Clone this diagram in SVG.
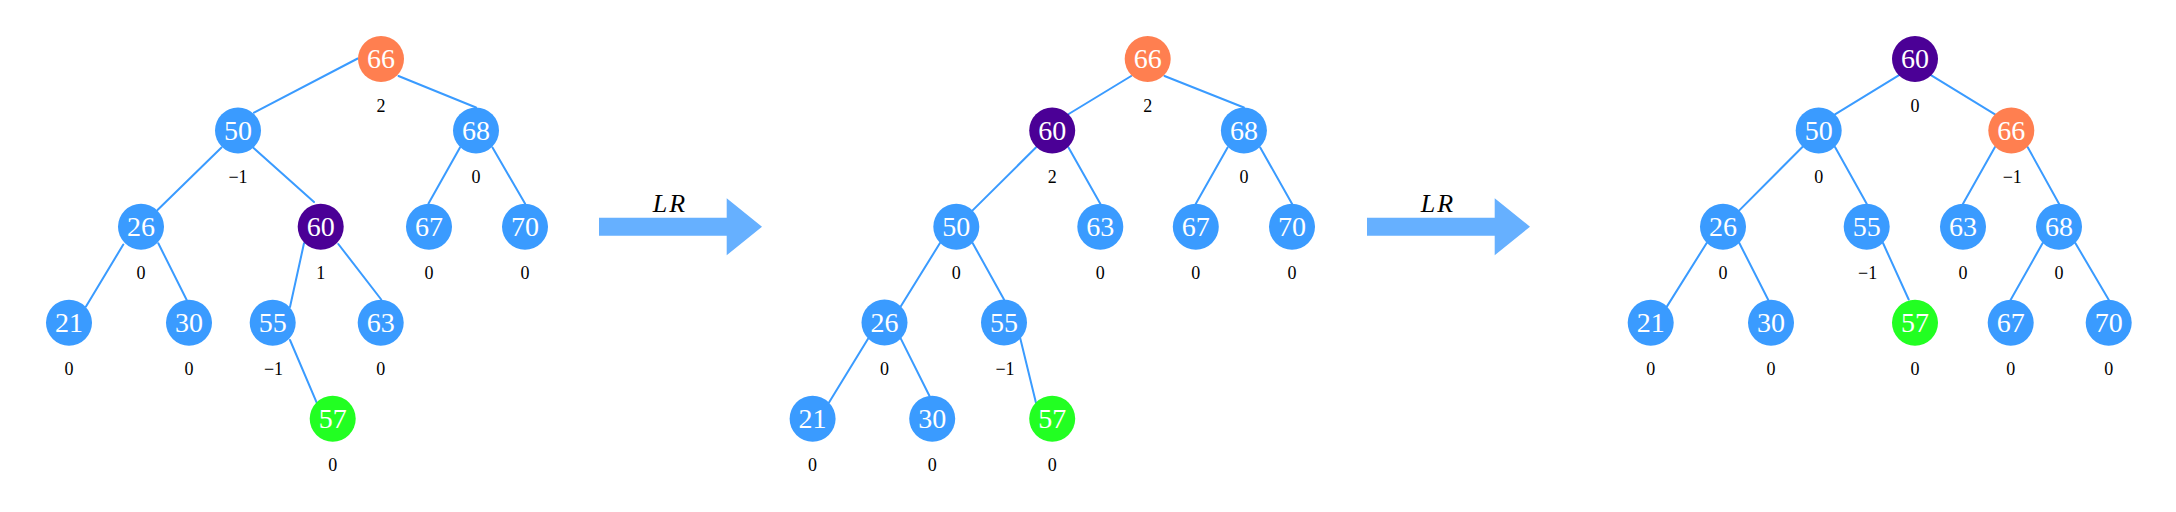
<svg xmlns="http://www.w3.org/2000/svg" width="2176" height="512" viewBox="0 0 2176 512">
<style>
.e{stroke:#3a9bff;stroke-width:2;fill:none;stroke-linecap:round}
.b{fill:#3a9bff}.o{fill:#ff7f50}.p{fill:#4b0096}.g{fill:#22ff22}
.v{font-family:"Liberation Serif","DejaVu Serif",serif;font-size:28px;fill:#fff;text-anchor:middle}
.f{font-family:"Liberation Serif","DejaVu Serif",serif;font-size:18px;fill:#000;text-anchor:middle}
.arr{fill:#66b0ff}
.lr{font-family:"Liberation Serif","DejaVu Serif",serif;font-style:italic;font-size:26px;fill:#000;text-anchor:middle;letter-spacing:2px}
</style>
<rect width="2176" height="512" fill="#fff"/>
<g id="connectors">
<!-- tree 1 -->
<line class="e" x1="357.7" y1="58.5" x2="254" y2="112.7"/>
<line class="e" x1="398.5" y1="76" x2="476" y2="107.5"/>
<line class="e" x1="221.5" y1="147.5" x2="157.5" y2="210"/>
<line class="e" x1="253.3" y1="147.7" x2="314" y2="202"/>
<line class="e" x1="460" y1="147.5" x2="428.5" y2="203.5"/>
<line class="e" x1="492.5" y1="147.5" x2="525" y2="203.5"/>
<line class="e" x1="123.3" y1="244.5" x2="86" y2="306.5"/>
<line class="e" x1="158.3" y1="243.3" x2="186.7" y2="300"/>
<line class="e" x1="304" y1="243.3" x2="290" y2="307"/>
<line class="e" x1="338.3" y1="244" x2="381.2" y2="299.5"/>
<line class="e" x1="290" y1="340" x2="316.7" y2="402.7"/>
<!-- tree 2 -->
<line class="e" x1="1131.2" y1="76" x2="1068.7" y2="114"/>
<line class="e" x1="1164.5" y1="76" x2="1243.9" y2="107.5"/>
<line class="e" x1="1035.9" y1="147.5" x2="972.6" y2="210.4"/>
<line class="e" x1="1068.5" y1="147.5" x2="1100.3" y2="203.7"/>
<line class="e" x1="1227.6" y1="147.5" x2="1195.8" y2="203.7"/>
<line class="e" x1="1260.2" y1="147.5" x2="1292" y2="203.7"/>
<line class="e" x1="940" y1="243" x2="901" y2="306"/>
<line class="e" x1="972.6" y1="243" x2="1004" y2="299.5"/>
<line class="e" x1="868.2" y1="338.6" x2="829" y2="402.4"/>
<line class="e" x1="900.8" y1="338.6" x2="929.5" y2="396"/>
<line class="e" x1="1020.3" y1="338.6" x2="1035.9" y2="402.4"/>
<!-- tree 3 -->
<line class="e" x1="1898.7" y1="75.3" x2="1835" y2="114.4"/>
<line class="e" x1="1931.3" y1="75.3" x2="1995" y2="114.4"/>
<line class="e" x1="1802.4" y1="147" x2="1739.3" y2="210.4"/>
<line class="e" x1="1835" y1="147" x2="1866.7" y2="203.7"/>
<line class="e" x1="1995" y1="147" x2="1963" y2="203.7"/>
<line class="e" x1="2027.6" y1="147" x2="2059" y2="203.7"/>
<line class="e" x1="1706.7" y1="243" x2="1667" y2="306.4"/>
<line class="e" x1="1739.3" y1="243" x2="1768.3" y2="300"/>
<line class="e" x1="1883" y1="243" x2="1908.7" y2="299.5"/>
<line class="e" x1="2042.7" y1="243" x2="2010.7" y2="299.7"/>
<line class="e" x1="2075.3" y1="243" x2="2108.7" y2="299.7"/>
</g>
<g id="arrow1">
<polygon class="arr" points="599,217.7 726.7,217.7 726.7,198.3 762,226.7 726.7,255.3 726.7,235.7 599,235.7"/>
<text class="lr" x="670" y="212.3">LR</text>
</g>
<g id="arrow2">
<polygon class="arr" points="1367,217.7 1494.7,217.7 1494.7,198.3 1530,226.7 1494.7,255.3 1494.7,235.7 1367,235.7"/>
<text class="lr" x="1438" y="212.3">LR</text>
</g>
<!-- tree 1 nodes -->
<g id="t1-66"><circle class="o" cx="381" cy="59" r="23"/><text class="v" x="381" y="68">66</text><text class="f" x="381" y="111.5">2</text></g>
<g id="t1-50"><circle class="b" cx="238" cy="130.5" r="23"/><text class="v" x="238" y="139.5">50</text><text class="f" x="238" y="183">−1</text></g>
<g id="t1-68"><circle class="b" cx="476" cy="130.5" r="23"/><text class="v" x="476" y="139.5">68</text><text class="f" x="476" y="183">0</text></g>
<g id="t1-26"><circle class="b" cx="141" cy="226.7" r="23"/><text class="v" x="141" y="235.7">26</text><text class="f" x="141" y="279.2">0</text></g>
<g id="t1-60"><circle class="p" cx="320.7" cy="226.7" r="23"/><text class="v" x="320.7" y="235.7">60</text><text class="f" x="320.7" y="279.2">1</text></g>
<g id="t1-67"><circle class="b" cx="429" cy="226.7" r="23"/><text class="v" x="429" y="235.7">67</text><text class="f" x="429" y="279.2">0</text></g>
<g id="t1-70"><circle class="b" cx="525" cy="226.7" r="23"/><text class="v" x="525" y="235.7">70</text><text class="f" x="525" y="279.2">0</text></g>
<g id="t1-21"><circle class="b" cx="69" cy="322.7" r="23"/><text class="v" x="69" y="331.7">21</text><text class="f" x="69" y="375.2">0</text></g>
<g id="t1-30"><circle class="b" cx="189" cy="322.7" r="23"/><text class="v" x="189" y="331.7">30</text><text class="f" x="189" y="375.2">0</text></g>
<g id="t1-55"><circle class="b" cx="272.7" cy="322.7" r="23"/><text class="v" x="272.7" y="331.7">55</text><text class="f" x="273.5" y="375.2">−1</text></g>
<g id="t1-63"><circle class="b" cx="380.7" cy="322.7" r="23"/><text class="v" x="380.7" y="331.7">63</text><text class="f" x="380.7" y="375.2">0</text></g>
<g id="t1-57"><circle class="g" cx="332.7" cy="418.7" r="23"/><text class="v" x="332.7" y="427.7">57</text><text class="f" x="332.7" y="471.2">0</text></g>
<!-- tree 2 nodes -->
<g id="t2-66"><circle class="o" cx="1147.7" cy="59" r="23"/><text class="v" x="1147.7" y="68">66</text><text class="f" x="1147.7" y="111.5">2</text></g>
<g id="t2-60"><circle class="p" cx="1052.2" cy="130.5" r="23"/><text class="v" x="1052.2" y="139.5">60</text><text class="f" x="1052.2" y="183">2</text></g>
<g id="t2-68"><circle class="b" cx="1243.9" cy="130.5" r="23"/><text class="v" x="1243.9" y="139.5">68</text><text class="f" x="1243.9" y="183">0</text></g>
<g id="t2-50"><circle class="b" cx="956.3" cy="226.7" r="23"/><text class="v" x="956.3" y="235.7">50</text><text class="f" x="956.3" y="279.2">0</text></g>
<g id="t2-63"><circle class="b" cx="1100.3" cy="226.7" r="23"/><text class="v" x="1100.3" y="235.7">63</text><text class="f" x="1100.3" y="279.2">0</text></g>
<g id="t2-67"><circle class="b" cx="1195.8" cy="226.7" r="23"/><text class="v" x="1195.8" y="235.7">67</text><text class="f" x="1195.8" y="279.2">0</text></g>
<g id="t2-70"><circle class="b" cx="1292" cy="226.7" r="23"/><text class="v" x="1292" y="235.7">70</text><text class="f" x="1292" y="279.2">0</text></g>
<g id="t2-26"><circle class="b" cx="884.5" cy="322.5" r="23"/><text class="v" x="884.5" y="331.5">26</text><text class="f" x="884.5" y="375">0</text></g>
<g id="t2-55"><circle class="b" cx="1004" cy="322.5" r="23"/><text class="v" x="1004" y="331.5">55</text><text class="f" x="1005" y="375">−1</text></g>
<g id="t2-21"><circle class="b" cx="812.6" cy="418.7" r="23"/><text class="v" x="812.6" y="427.7">21</text><text class="f" x="812.6" y="471.2">0</text></g>
<g id="t2-30"><circle class="b" cx="932.2" cy="418.7" r="23"/><text class="v" x="932.2" y="427.7">30</text><text class="f" x="932.2" y="471.2">0</text></g>
<g id="t2-57"><circle class="g" cx="1052.2" cy="418.7" r="23"/><text class="v" x="1052.2" y="427.7">57</text><text class="f" x="1052.2" y="471.2">0</text></g>
<!-- tree 3 nodes -->
<g id="t3-60"><circle class="p" cx="1915" cy="59" r="23"/><text class="v" x="1915" y="68">60</text><text class="f" x="1915" y="111.5">0</text></g>
<g id="t3-50"><circle class="b" cx="1818.7" cy="130.5" r="23"/><text class="v" x="1818.7" y="139.5">50</text><text class="f" x="1818.7" y="183">0</text></g>
<g id="t3-66"><circle class="o" cx="2011.3" cy="130.5" r="23"/><text class="v" x="2011.3" y="139.5">66</text><text class="f" x="2012.3" y="183">−1</text></g>
<g id="t3-26"><circle class="b" cx="1723" cy="226.7" r="23"/><text class="v" x="1723" y="235.7">26</text><text class="f" x="1723" y="279.2">0</text></g>
<g id="t3-55"><circle class="b" cx="1866.7" cy="226.7" r="23"/><text class="v" x="1866.7" y="235.7">55</text><text class="f" x="1867.7" y="279.2">−1</text></g>
<g id="t3-63"><circle class="b" cx="1963" cy="226.7" r="23"/><text class="v" x="1963" y="235.7">63</text><text class="f" x="1963" y="279.2">0</text></g>
<g id="t3-68"><circle class="b" cx="2059" cy="226.7" r="23"/><text class="v" x="2059" y="235.7">68</text><text class="f" x="2059" y="279.2">0</text></g>
<g id="t3-21"><circle class="b" cx="1650.7" cy="322.7" r="23"/><text class="v" x="1650.7" y="331.7">21</text><text class="f" x="1650.7" y="375.2">0</text></g>
<g id="t3-30"><circle class="b" cx="1771" cy="322.7" r="23"/><text class="v" x="1771" y="331.7">30</text><text class="f" x="1771" y="375.2">0</text></g>
<g id="t3-57"><circle class="g" cx="1915" cy="322.7" r="23"/><text class="v" x="1915" y="331.7">57</text><text class="f" x="1915" y="375.2">0</text></g>
<g id="t3-67"><circle class="b" cx="2010.7" cy="322.7" r="23"/><text class="v" x="2010.7" y="331.7">67</text><text class="f" x="2010.7" y="375.2">0</text></g>
<g id="t3-70"><circle class="b" cx="2108.7" cy="322.7" r="23"/><text class="v" x="2108.7" y="331.7">70</text><text class="f" x="2108.7" y="375.2">0</text></g>
</svg>
